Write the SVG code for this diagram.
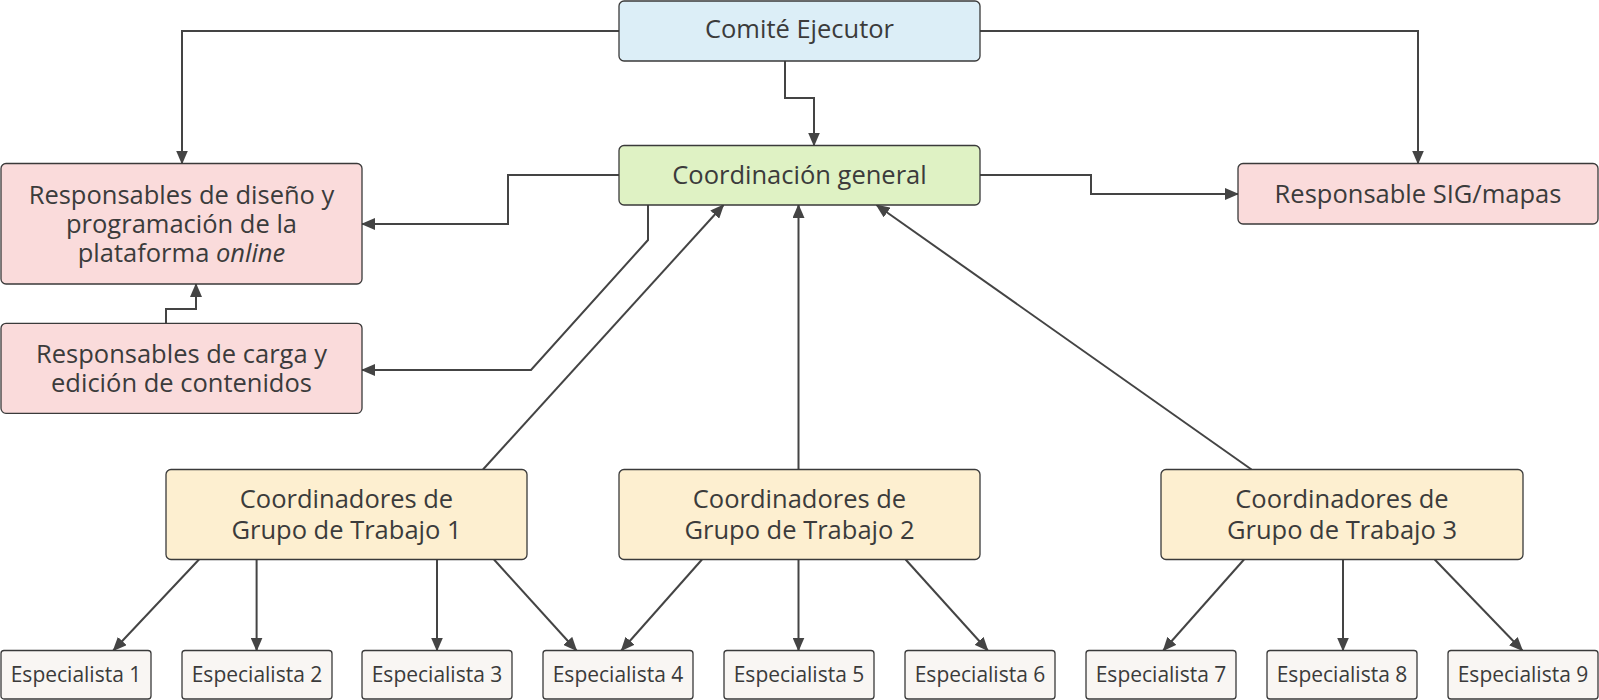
<svg xmlns="http://www.w3.org/2000/svg" width="1599" height="700" viewBox="0 0 1599 700">
<style>
  .box { stroke: #3a3a3a; stroke-width: 1.3; }
  .blue { fill: #dcEEF7; }
  .green { fill: #dff2c4; }
  .pink { fill: #fadbdb; }
  .yellow { fill: #fdefd0; }
  .spec { fill: #f9f6f3; }
  text { font-family: "Open Sans", "Noto Sans", "Liberation Sans", sans-serif; fill: #3b3b3b; text-anchor: middle; }
  .t { font-size: 25.5px; }
  .s { font-size: 21px; }
  .c { fill: none; stroke: #444444; stroke-width: 2; }
</style>
<defs>
  <marker id="arr" markerUnits="userSpaceOnUse" markerWidth="14" markerHeight="12" viewBox="0 0 14 12" refX="13" refY="6" orient="auto">
    <path d="M0,0 L14,6 L0,12 z" fill="#444444"/>
  </marker>
</defs>
<rect width="1599" height="700" fill="#ffffff"/>
<g id="connectors">
  <path class="c" marker-end="url(#arr)" d="M619,31 H182 V163.5"/>
  <path class="c" marker-end="url(#arr)" d="M785,61 V98 H814 V145.5"/>
  <path class="c" marker-end="url(#arr)" d="M980,31 H1418 V163.5"/>
  <path class="c" marker-end="url(#arr)" d="M619,175 H508 V224 H362"/>
  <path class="c" marker-end="url(#arr)" d="M648,205 V240 L531,370 H362"/>
  <path class="c" marker-end="url(#arr)" d="M980,175 H1091 V194 H1238"/>
  <path class="c" marker-end="url(#arr)" d="M166,323 V309 H196 V284"/>
  <path class="c" marker-end="url(#arr)" d="M483,469.5 L723.5,205"/>
  <path class="c" marker-end="url(#arr)" d="M798.5,469.5 V205"/>
  <path class="c" marker-end="url(#arr)" d="M1251.5,469.5 L876.5,205"/>
  <path class="c" marker-end="url(#arr)" d="M199,559.5 L113.3,650.5"/>
  <path class="c" marker-end="url(#arr)" d="M256.6,559.5 V650.5"/>
  <path class="c" marker-end="url(#arr)" d="M437,559.5 V650.5"/>
  <path class="c" marker-end="url(#arr)" d="M494,559.5 L576.5,650.5"/>
  <path class="c" marker-end="url(#arr)" d="M702,559.5 L621.4,650.5"/>
  <path class="c" marker-end="url(#arr)" d="M798.5,559.5 V650.5"/>
  <path class="c" marker-end="url(#arr)" d="M905.6,559.5 L987.8,650.5"/>
  <path class="c" marker-end="url(#arr)" d="M1244,559.5 L1163.3,650.5"/>
  <path class="c" marker-end="url(#arr)" d="M1343,559.5 V650.5"/>
  <path class="c" marker-end="url(#arr)" d="M1434.7,559.5 L1522.4,650.5"/>
</g>
<g id="comite">
  <rect class="box blue" x="619" y="1" width="361" height="60" rx="5"/>
  <text class="t" x="799.5" y="38">Comité Ejecutor</text>
</g>
<g id="coordinacion">
  <rect class="box green" x="619" y="145.5" width="361" height="59.5" rx="5"/>
  <text class="t" x="799.5" y="184">Coordinación general</text>
</g>
<g id="diseno">
  <rect class="box pink" x="1" y="163.5" width="361" height="120.5" rx="5"/>
  <text class="t" x="181.5" y="203.7">Responsables de diseño y<tspan x="181.5" dy="29">programación de la</tspan><tspan x="181.5" dy="29">plataforma <tspan font-style="italic">online</tspan></tspan></text>
</g>
<g id="carga">
  <rect class="box pink" x="1" y="323.3" width="361" height="90" rx="5"/>
  <text class="t" x="181.5" y="362.8">Responsables de carga y<tspan x="181.5" dy="29">edición de contenidos</tspan></text>
</g>
<g id="sig">
  <rect class="box pink" x="1238" y="163.5" width="360" height="60.5" rx="5"/>
  <text class="t" x="1418" y="202.7">Responsable SIG/mapas</text>
</g>
<g id="gt1">
  <rect class="box yellow" x="166" y="469.5" width="361" height="90" rx="5"/>
  <text class="t" x="346.5" y="507.5">Coordinadores de<tspan x="346.5" dy="31">Grupo de Trabajo 1</tspan></text>
</g>
<g id="gt2">
  <rect class="box yellow" x="619" y="469.5" width="361" height="90" rx="5"/>
  <text class="t" x="799.5" y="507.5">Coordinadores de<tspan x="799.5" dy="31">Grupo de Trabajo 2</tspan></text>
</g>
<g id="gt3">
  <rect class="box yellow" x="1161" y="469.5" width="362" height="90" rx="5"/>
  <text class="t" x="1342" y="507.5">Coordinadores de<tspan x="1342" dy="31">Grupo de Trabajo 3</tspan></text>
</g>
<g id="esp1"><rect class="box spec" x="1" y="650.5" width="150" height="48.5" rx="3"/><text class="s" x="76" y="682">Especialista 1</text></g>
<g id="esp2"><rect class="box spec" x="182" y="650.5" width="150" height="48.5" rx="3"/><text class="s" x="257" y="682">Especialista 2</text></g>
<g id="esp3"><rect class="box spec" x="362" y="650.5" width="150" height="48.5" rx="3"/><text class="s" x="437" y="682">Especialista 3</text></g>
<g id="esp4"><rect class="box spec" x="543" y="650.5" width="150" height="48.5" rx="3"/><text class="s" x="618" y="682">Especialista 4</text></g>
<g id="esp5"><rect class="box spec" x="724" y="650.5" width="150" height="48.5" rx="3"/><text class="s" x="799" y="682">Especialista 5</text></g>
<g id="esp6"><rect class="box spec" x="905" y="650.5" width="150" height="48.5" rx="3"/><text class="s" x="980" y="682">Especialista 6</text></g>
<g id="esp7"><rect class="box spec" x="1086" y="650.5" width="150" height="48.5" rx="3"/><text class="s" x="1161" y="682">Especialista 7</text></g>
<g id="esp8"><rect class="box spec" x="1267" y="650.5" width="150" height="48.5" rx="3"/><text class="s" x="1342" y="682">Especialista 8</text></g>
<g id="esp9"><rect class="box spec" x="1448" y="650.5" width="150" height="48.5" rx="3"/><text class="s" x="1523" y="682">Especialista 9</text></g>
</svg>
